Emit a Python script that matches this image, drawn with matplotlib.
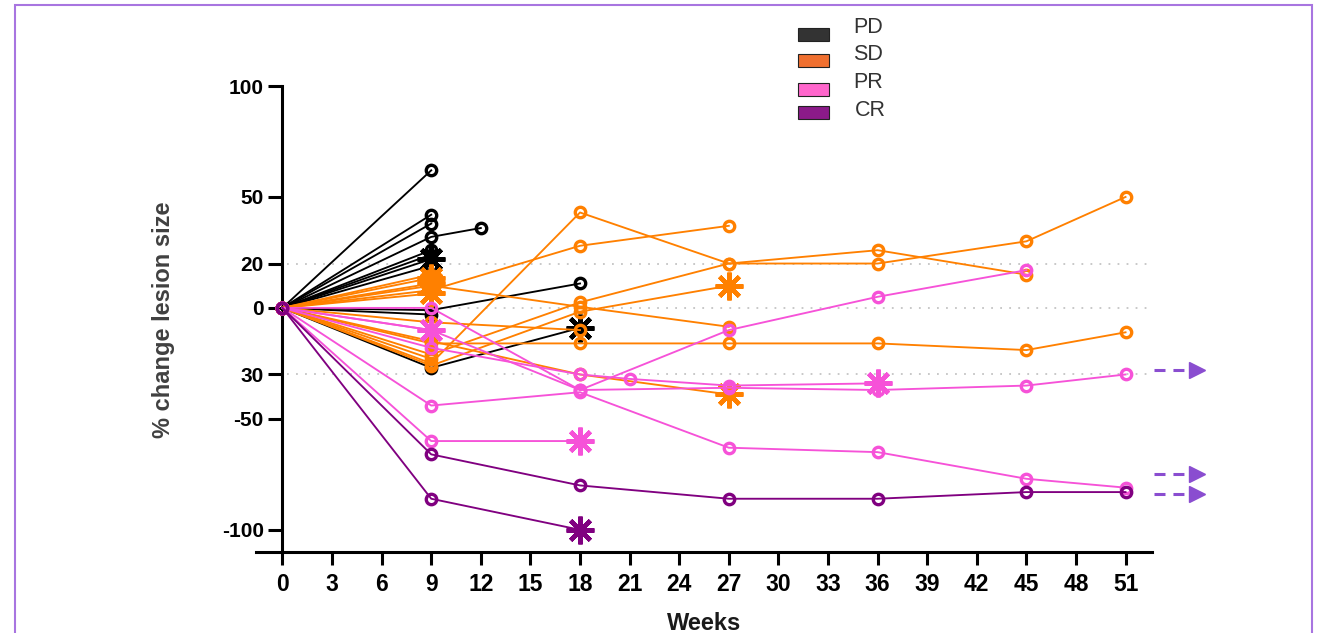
import matplotlib
matplotlib.use("Agg")
import matplotlib.pyplot as plt
from matplotlib.patches import Rectangle

# ---------------- data ----------------
x_ticks = list(range(0, 52, 3))
y_ticks = [100, 50, 20, 0, -30, -50, -100]
y_tick_labels = ["100", "50", "20", "0", "30", "-50", "-100"]
ref_lines = [20, 0, -30]

pd_weeks = [[0, 9], [0, 9], [0, 9], [0, 9, 12], [0, 9], [0, 9], [0, 9], [0, 9],
            [0, 9, 18], [0, 9, 18], [0, 9]]
pd_values = [[0, 62], [0, 42], [0, 38], [0, 32, 36], [0, 26], [0, 24], [0, 22], [0, 19],
             [0, -1, 11], [0, -27, -9], [0, -3]]
pd_asterisk = [False, False, False, False, False, False, True, False, False, True, False]

sd_weeks = [[0, 9, 18, 27, 36, 45], [0, 9, 18, 27], [0, 9, 18, 27, 36, 45, 51],
            [0, 9, 18, 27], [0, 9, 18, 27], [0, 9, 18, 27, 36, 45, 51],
            [0, 9, 18], [0, 9, 18, 27], [0, 9], [0, 9], [0, 9], [0, 9], [0, 9]]
sd_values = [[0, -25, 43, 20, 26, 15], [0, 8, 28, 37], [0, -21, 2.5, 20, 20, 30, 50],
             [0, -26, -1.7, 10], [0, 10, 0.5, -8.5], [0, -16, -16, -16, -16, -19, -11],
             [0, -6.5, -10], [0, -15, -30, -39], [0, 13.5], [0, 11], [0, 6.5], [0, -23], [0, 15]]
sd_asterisk = [False, False, False, True, False, False, False, True, True, True, True, False, False]

pr_weeks = [[0, 9, 18, 27, 36, 45], [0, 9, 18, 21, 27, 36], [0, 9, 18, 27, 36, 45, 51],
            [0, 9, 18, 27, 36, 45, 51], [0, 9, 18], [0, 9]]
pr_values = [[0, 0, -37, -10, 5, 17], [0, -18, -30, -32, -35, -34], [0, -10, -37, -36, -37, -35, -30],
             [0, -44, -38, -63, -65, -77, -81], [0, -60, -60], [0, -10]]
pr_asterisk = [False, True, False, False, True, True]

cr_weeks = [[0, 9, 18, 27, 36, 45, 51], [0, 9, 18]]
cr_values = [[0, -66, -80, -86, -86, -83, -83], [0, -86, -100]]
cr_asterisk = [False, True]

arrow_y = [-28, -75, -84]

legend_labels = ["PD", "SD", "PR", "CR"]
legend_colors = ["#333333", "#f07030", "#ff66cc", "#8b1a89"]

# ---------------- style ----------------
plt.rcParams["font.family"] = ["Liberation Sans", "DejaVu Sans"]

fig = plt.figure(figsize=(13.2, 6.33), dpi=100)
ax = fig.add_axes([256 / 1320, 81 / 633, 896 / 1320, 466 / 633])

ax.set_xlim(-1.6, 52.6)
ax.set_ylim(-110, 100)

for y in ref_lines:
    ax.hlines(y, 0.3, 52.4, colors="#c4c4c4", linestyles=(0, (1, 4)), linewidth=1.3, zorder=1)

groups = [
    (pd_weeks, pd_values, pd_asterisk, "#000000"),
    (sd_weeks, sd_values, sd_asterisk, "#ff8000"),
    (pr_weeks, pr_values, pr_asterisk, "#f652d8"),
    (cr_weeks, cr_values, cr_asterisk, "#800080"),
]
z = 3
for weeks_list, vals_list, ast_list, col in groups:
    for w, v, a in zip(weeks_list, vals_list, ast_list):
        ax.plot(w, v, color=col, lw=1.35, zorder=z)
        if a:
            ax.plot(w[:-1], v[:-1], ls="none", marker="o", ms=7.5, mew=2.4,
                    mfc="none", mec=col, zorder=z + 0.5)
            ax.plot(w[-1:], v[-1:], ls="none", marker=(8, 2, 0), ms=20, mew=3.2,
                    mec=col, zorder=z + 0.6)
        else:
            ax.plot(w, v, ls="none", marker="o", ms=7.5, mew=2.4,
                    mfc="none", mec=col, zorder=z + 0.5)
    z += 1

# continuation arrows
for y in arrow_y:
    ax.plot([52.75, 54.6], [y, y], color="#8a4dd0", lw=2.2, ls=(0, (3.6, 2.6)),
            clip_on=False, zorder=10)
    ax.plot([55.35], [y], marker=">", ms=11, color="#8a4dd0", mec="#8a4dd0",
            clip_on=False, zorder=10)

# axes styling
for s in ["top", "right"]:
    ax.spines[s].set_visible(False)
ax.spines["left"].set_position(("data", 0))
ax.spines["left"].set_linewidth(2.2)
ax.spines["bottom"].set_linewidth(2.2)

ax.set_xticks(x_ticks)
ax.set_xticklabels([str(t) for t in x_ticks])
ax.set_yticks(y_ticks)
ax.set_yticklabels(y_tick_labels)
ax.tick_params(axis="both", width=2.2, color="black")
ax.tick_params(axis="x", length=9, pad=6, labelsize=16.5)
ax.tick_params(axis="y", length=10, pad=3.5, labelsize=15)
for lab in ax.get_xticklabels() + ax.get_yticklabels():
    lab.set_fontweight("bold")

ax.set_ylabel("% change lesion size", fontsize=17, fontweight="bold", color="#404040")
ax.yaxis.label.set_va("center")
ax.yaxis.set_label_coords(-0.103, 0.498)
ax.set_xlabel("Weeks", fontsize=17, fontweight="bold", color="#1a1a1a")
ax.xaxis.label.set_va("center")
ax.xaxis.set_label_coords(0.5, -0.154)

# legend (manual)
patch_tops = [28, 54, 83, 106]
label_centers = [27.5, 55, 82, 111]
label_x = [853, 853, 853, 855]
W, H = 1320, 633
for lab, col, pt, lc, lx in zip(legend_labels, legend_colors, patch_tops, label_centers, label_x):
    fig.add_artist(Rectangle((798 / W, 1 - (pt + 13) / H), 31 / W, 13 / H,
                             transform=fig.transFigure, facecolor=col,
                             edgecolor="#222222", linewidth=0.8))
    fig.text(lx / W, 1 - lc / H, lab, fontsize=15.5, color="#333333",
             ha="left", va="center")

# figure border
fig.add_artist(Rectangle((15 / W, -0.1), (1312 - 15) / W, 1.1 - 5 / H,
                         transform=fig.transFigure, fill=False,
                         edgecolor="#a875e0", linewidth=1.5))

fig.savefig("out.png", dpi=100)
